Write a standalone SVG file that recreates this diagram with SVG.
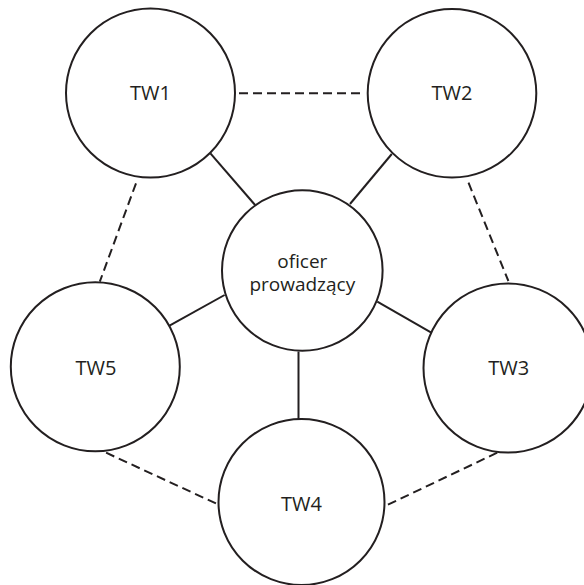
<svg xmlns="http://www.w3.org/2000/svg" width="584" height="585" viewBox="0 0 584 585">
<style>
.node circle{fill:#fff;stroke:#231f20;stroke-width:2}
.node text{font-family:"Open Sans","Noto Sans",sans-serif;font-size:20px;fill:#231f20;text-anchor:middle}
.node text.c{font-size:19px}
.solid{stroke:#231f20;stroke-width:2;fill:none}
.dash{stroke:#231f20;stroke-width:2;fill:none;stroke-dasharray:9 5}
</style>
<rect width="584" height="585" fill="#fff"/>
<g id="connectors">
<line class="solid" x1="210.4" y1="153.3" x2="255.1" y2="205"/>
<line class="solid" x1="391.8" y1="154" x2="350" y2="204"/>
<line class="solid" x1="224.6" y1="295" x2="169.5" y2="325.7"/>
<line class="solid" x1="377.3" y1="301.7" x2="431.3" y2="332.7"/>
<line class="solid" x1="298.5" y1="351.5" x2="298.5" y2="419.5"/>
<line class="dash" x1="239" y1="93.3" x2="361.3" y2="93.3"/>
<line class="dash" x1="136" y1="183.3" x2="99.8" y2="281.7"/>
<line class="dash" x1="468.5" y1="182.7" x2="508.4" y2="281"/>
<line class="dash" x1="106.1" y1="452.7" x2="217.1" y2="504"/>
<line class="dash" x1="497.2" y1="452.7" x2="387.3" y2="505"/>
</g>
<g id="tw1" class="node"><circle cx="150.5" cy="93" r="84.5"/><text x="150.5" y="100">TW1</text></g>
<g id="tw2" class="node"><circle cx="452" cy="93.3" r="84.3"/><text x="452" y="100">TW2</text></g>
<g id="center" class="node"><circle cx="302.3" cy="270.5" r="80.3"/><text class="c" x="302.3" y="268">oficer</text><text class="c" x="302.3" y="291">prowadzący</text></g>
<g id="tw5" class="node"><circle cx="95.3" cy="366.8" r="84.5"/><text x="96" y="375">TW5</text></g>
<g id="tw3" class="node"><circle cx="508" cy="368" r="84.5"/><text x="508.8" y="375">TW3</text></g>
<g id="tw4" class="node"><circle cx="301.5" cy="502" r="83"/><text x="301.5" y="511">TW4</text></g>
</svg>
